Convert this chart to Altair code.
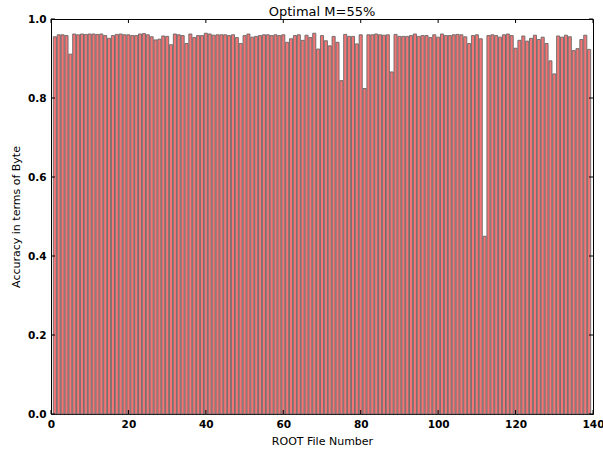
import altair as alt
import pandas as pd

# ---- data ----
file_numbers = list(range(1, 140))
accuracy = [
    0.955, 0.960, 0.960, 0.958, 0.911, 0.962, 0.960, 0.962, 0.961, 0.962,
    0.962, 0.961, 0.962, 0.958, 0.951, 0.958, 0.961, 0.962, 0.960, 0.960,
    0.958, 0.958, 0.962, 0.963, 0.960, 0.955, 0.947, 0.949, 0.957, 0.956,
    0.935, 0.962, 0.960, 0.958, 0.938, 0.962, 0.953, 0.958, 0.958, 0.964,
    0.962, 0.959, 0.960, 0.960, 0.960, 0.958, 0.960, 0.953, 0.938, 0.958,
    0.962, 0.954, 0.956, 0.958, 0.960, 0.960, 0.958, 0.960, 0.958, 0.960,
    0.941, 0.950, 0.958, 0.960, 0.946, 0.959, 0.953, 0.964, 0.924, 0.958,
    0.945, 0.932, 0.956, 0.941, 0.844, 0.961, 0.956, 0.956, 0.937, 0.960,
    0.824, 0.960, 0.960, 0.962, 0.960, 0.959, 0.960, 0.866, 0.961, 0.956,
    0.956, 0.956, 0.958, 0.962, 0.956, 0.958, 0.958, 0.953, 0.960, 0.954,
    0.962, 0.958, 0.958, 0.960, 0.961, 0.960, 0.955, 0.938, 0.958, 0.960,
    0.950, 0.450, 0.958, 0.960, 0.958, 0.954, 0.960, 0.962, 0.958, 0.926,
    0.946, 0.957, 0.944, 0.951, 0.959, 0.948, 0.954, 0.938, 0.894, 0.861,
    0.957, 0.954, 0.959, 0.955, 0.920, 0.925, 0.948, 0.959, 0.923,
]
x_ticks = [0, 20, 40, 60, 80, 100, 120, 140]
y_ticks = [0.0, 0.2, 0.4, 0.6, 0.8, 1.0]

title_text = "Optimal M=55%"
x_title = "ROOT File Number"
y_title = "Accuracy in terms of Byte"

W, H = 542, 395
FONT = "DejaVu Sans"

bars_df = pd.DataFrame({"file": file_numbers, "acc": accuracy})
xt_df = pd.DataFrame({"t": x_ticks})
yt_df = pd.DataFrame({"t": y_ticks})

xs = alt.Scale(domain=[0, 140], nice=False, zero=False)
ys = alt.Scale(domain=[0, 1], nice=False)

x_axis = alt.Axis(values=x_ticks, title=x_title, format="d", labelFlush=False,
                  labelPadding=5, titlePadding=6)
y_axis = alt.Axis(values=y_ticks, format=".1f", title=y_title, labelFlush=False,
                  labelPadding=5, titleX=-35, titleY=H / 2,
                  titleAngle=270, titleAlign="center", titleBaseline="middle")

bars = (
    alt.Chart(bars_df)
    .transform_calculate(x0="datum.file - 0.4", x1="datum.file + 0.4")
    .mark_bar(color="#F37575", stroke="#686868", strokeWidth=0.9, opacity=1)
    .encode(
        x=alt.X("x0:Q", scale=xs, axis=x_axis),
        x2="x1:Q",
        y=alt.Y("acc:Q", scale=ys, axis=y_axis),
        y2=alt.datum(0),
    )
)

tick_color = "black"
xt_bottom = alt.Chart(xt_df).mark_rule(color=tick_color).encode(
    x=alt.X("t:Q", scale=xs, axis=x_axis), y=alt.value(H), y2=alt.value(H - 4)
)
xt_top = alt.Chart(xt_df).mark_rule(color=tick_color).encode(
    x=alt.X("t:Q", scale=xs, axis=x_axis), y=alt.value(0), y2=alt.value(4)
)
yt_left = alt.Chart(yt_df).mark_rule(color=tick_color).encode(
    y=alt.Y("t:Q", scale=ys, axis=y_axis), x=alt.value(0), x2=alt.value(4)
)
yt_right = alt.Chart(yt_df).mark_rule(color=tick_color).encode(
    y=alt.Y("t:Q", scale=ys, axis=y_axis), x=alt.value(W), x2=alt.value(W - 4)
)

chart = (
    alt.layer(bars, xt_bottom, xt_top, yt_left, yt_right)
    .properties(
        width=W,
        height=H,
        autosize=alt.AutoSizeParams(type="none"),
        padding={"left": 51, "top": 19, "right": 10, "bottom": 36},
        title=alt.TitleParams(
            title_text, font=FONT, fontSize=13, fontWeight="normal",
            color="black", offset=1, dy=6, anchor="middle",
        ),
        background="white",
    )
    .configure_view(stroke="black", strokeWidth=1)
    .configure_axis(
        domain=False, ticks=False, grid=False,
        labelFont=FONT, labelFontSize=10.5, labelFontWeight="bold", labelColor="black",
        titleFont=FONT, titleFontSize=11, titleFontWeight="normal", titleColor="black",
    )
)

chart.save("out.html", embed_options={"renderer": "svg", "actions": False})
